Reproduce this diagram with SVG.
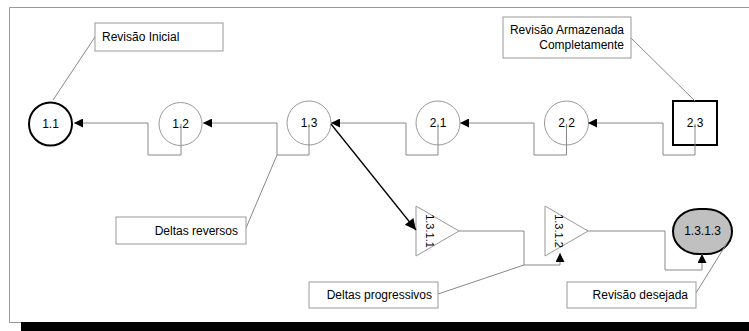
<svg xmlns="http://www.w3.org/2000/svg" width="749" height="331" viewBox="0 0 749 331">
<defs>
<style>
text{font-family:"Liberation Sans",Arial,sans-serif;font-size:12px;fill:#000}
.g{fill:none;stroke:#888;stroke-width:1}
.box{fill:#fff;stroke:#999;stroke-width:1}
.n{fill:none;stroke:#999;stroke-width:1}
.nb{fill:none;stroke:#000;stroke-width:2}
.c{text-anchor:middle}
.r{text-anchor:end}
</style>
<marker id="ah" viewBox="0 0 10 10" refX="10" refY="5" markerWidth="13" markerHeight="9" markerUnits="userSpaceOnUse" orient="auto"><path d="M0,0L10,5L0,10z" fill="#000"/></marker>
<marker id="ahb" viewBox="0 0 10 10" refX="10" refY="5" markerWidth="15" markerHeight="11" markerUnits="userSpaceOnUse" orient="auto"><path d="M0,0L10,5L0,10z" fill="#000"/></marker>
</defs>
<rect x="0" y="0" width="749" height="331" fill="#fff"/>
<path d="M749,7.5H9.5V322.5H21" fill="none" stroke="#999" stroke-width="1"/>
<rect x="21" y="322" width="728" height="9" fill="#000"/>
<g id="n11"><circle class="nb" cx="50.5" cy="124" r="21.5"/><text class="c" x="50.5" y="128">1.1</text></g>
<g id="n12"><circle class="n" cx="180.5" cy="124" r="21.5"/><text class="c" x="180.5" y="128">1.2</text></g>
<g id="n13"><circle class="n" cx="309" cy="123" r="22"/><text class="c" x="309" y="127">1.3</text></g>
<g id="n21"><circle class="n" cx="438" cy="123" r="22"/><text class="c" x="438" y="127">2.1</text></g>
<g id="n22"><circle class="n" cx="566.5" cy="123" r="22"/><text class="c" x="566.5" y="127">2.2</text></g>
<g id="n23"><rect class="nb" x="673" y="101" width="44" height="44"/><text class="c" x="695" y="127">2.3</text></g>
<g id="n1311"><path class="n" d="M416,206L459,231L416,256z"/><text class="c" transform="translate(430,231) rotate(90)" x="0" y="4" style="font-size:11px">1.3.1.1</text></g>
<g id="n1312"><path class="n" d="M545,206L588,231L545,256z"/><text class="c" transform="translate(559,231) rotate(90)" x="0" y="4" style="font-size:11px">1.3.1.2</text></g>
<g id="n1313"><rect x="673" y="209" width="59" height="45" rx="26" ry="22.5" fill="#c0c0c0" stroke="#000" stroke-width="2"/><text class="c" x="702.5" y="235">1.3.1.3</text></g>
<g id="connectors">
<path class="g" d="M181,124V155H148V123H74" marker-end="url(#ah)"/>
<path class="g" d="M309,124V155H277V123H203" marker-end="url(#ah)"/>
<path class="g" d="M438,124V155H406V123H331" marker-end="url(#ah)"/>
<path class="g" d="M566.5,124V155H534V123H460" marker-end="url(#ah)"/>
<path class="g" d="M695,124V155H663V123H588" marker-end="url(#ah)"/>
<path d="M331,124L416,230" fill="none" stroke="#000" stroke-width="1.3" marker-end="url(#ahb)"/>
<path class="g" d="M459,231H524V265H560V253" marker-end="url(#ah)"/>
<path class="g" d="M588,231H665V270H702V254" marker-end="url(#ah)"/>
<path class="g" d="M95,37L53,100"/>
<path class="g" d="M631,38L695,101"/>
<path class="g" d="M246,228L277,155"/>
<path class="g" d="M438,294L524,265"/>
<path class="g" d="M696,293L727,243"/>
</g>
<g id="lbl-inicial"><rect class="box" x="95" y="23" width="128" height="28"/><text x="102" y="41">Revisão Inicial</text></g>
<g id="lbl-armazenada"><rect class="box" x="503" y="17" width="128" height="41"/><text class="r" x="624" y="34">Revisão Armazenada</text><text class="r" x="624" y="49">Completamente</text></g>
<g id="lbl-reversos"><rect class="box" x="116" y="217" width="130" height="27"/><text class="r" x="238" y="235">Deltas reversos</text></g>
<g id="lbl-progressivos"><rect class="box" x="309" y="282" width="129" height="26"/><text class="r" x="432" y="299">Deltas progressivos</text></g>
<g id="lbl-desejada"><rect class="box" x="567" y="282" width="129" height="26"/><text class="r" x="688" y="299">Revisão desejada</text></g>
</svg>
